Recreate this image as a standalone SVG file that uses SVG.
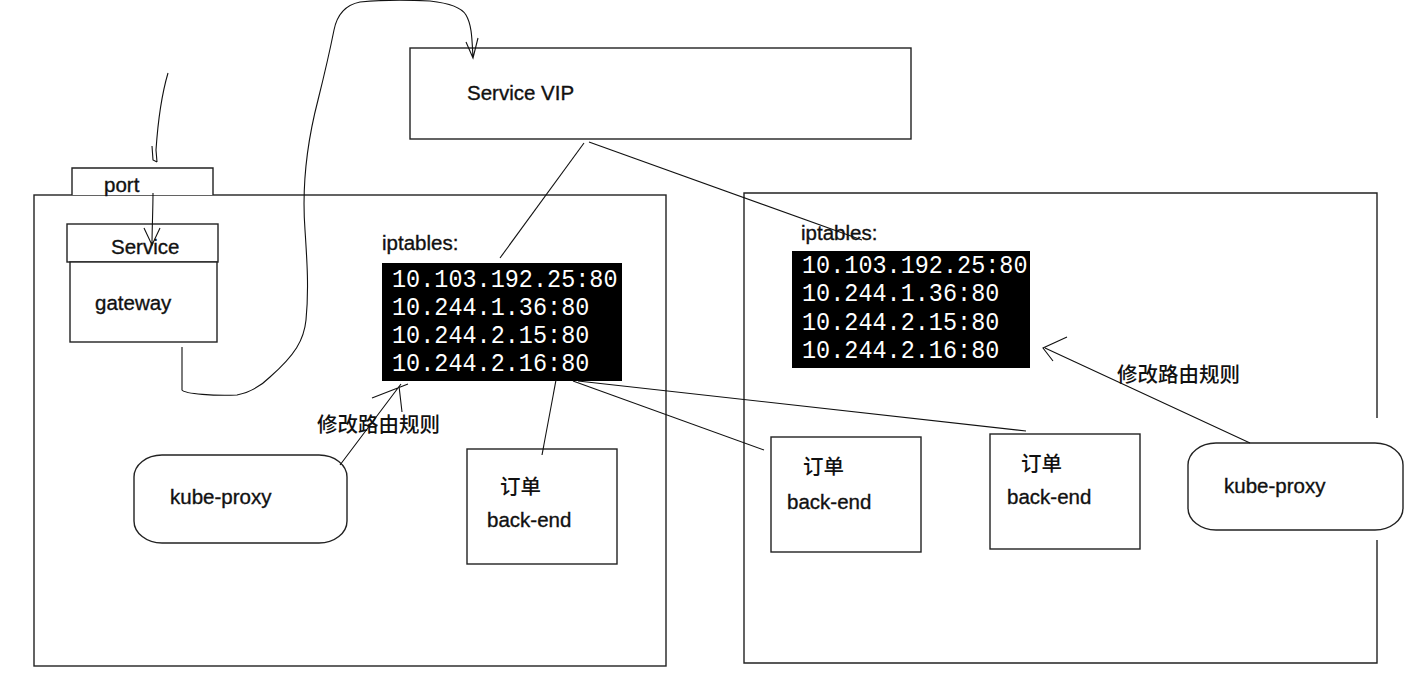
<svg xmlns="http://www.w3.org/2000/svg" width="1405" height="697" viewBox="0 0 1405 697">
<style>
.box{fill:#fff;stroke:#222;stroke-width:1.4}
.ln{fill:none;stroke:#111;stroke-width:1.1}
.t{font-family:"Liberation Sans","Noto Sans CJK SC",sans-serif;font-size:20.5px;fill:#111;stroke:#111;stroke-width:0.35}
.cjk{font-family:"Noto Sans CJK SC",sans-serif;font-size:20.5px;fill:#111;font-weight:500}
.ip{font-family:"Liberation Mono","DejaVu Sans Mono",monospace;font-size:23.5px;fill:#fff}
.term{fill:#000}
</style>
<rect width="1405" height="697" fill="#fff"/>

<g id="node-right-host"><path class="box" style="fill:none" d="M1377,540 V663 H744 V193 H1377 V418"/></g>
<g id="node-left-host"><rect class="box" style="fill:none" x="34" y="195" width="632" height="471"/></g>

<g id="node-service-vip"><rect class="box" x="410" y="48" width="501" height="91"/><text class="t" x="467" y="100">Service VIP</text></g>

<g id="node-port"><path class="box" d="M72,195 V168 H213 V195"/><text class="t" x="104" y="192">port</text></g>
<g id="node-service"><rect class="box" x="67" y="224" width="151" height="38"/><text class="t" x="111" y="254">Service</text></g>
<g id="node-gateway"><rect class="box" x="70" y="262" width="147" height="80"/><text class="t" x="95" y="310">gateway</text></g>

<g id="node-iptables-left">
<text class="t" x="382" y="250">iptables:</text>
<rect class="term" x="382" y="263" width="240" height="118"/>
<g transform="translate(392,287) scale(1,1.12)"><text class="ip" x="0" y="0">10.103.192.25:80</text></g>
<g transform="translate(392,315) scale(1,1.12)"><text class="ip" x="0" y="0">10.244.1.36:80</text></g>
<g transform="translate(392,343) scale(1,1.12)"><text class="ip" x="0" y="0">10.244.2.15:80</text></g>
<g transform="translate(392,371) scale(1,1.12)"><text class="ip" x="0" y="0">10.244.2.16:80</text></g>
</g>

<g id="node-iptables-right">
<text class="t" x="801" y="240">iptables:</text>
<rect class="term" x="792" y="251" width="238" height="117"/>
<g transform="translate(802,273) scale(1,1.12)"><text class="ip" x="0" y="0">10.103.192.25:80</text></g>
<g transform="translate(802,301) scale(1,1.12)"><text class="ip" x="0" y="0">10.244.1.36:80</text></g>
<g transform="translate(802,330) scale(1,1.12)"><text class="ip" x="0" y="0">10.244.2.15:80</text></g>
<g transform="translate(802,358) scale(1,1.12)"><text class="ip" x="0" y="0">10.244.2.16:80</text></g>
</g>

<g id="node-kube-proxy-left"><rect class="box" x="134" y="455" width="213" height="88" rx="28" ry="22"/><text class="t" x="170" y="504">kube-proxy</text></g>
<g id="node-kube-proxy-right"><rect class="box" x="1188" y="443" width="215" height="87" rx="28" ry="22"/><text class="t" x="1224" y="493">kube-proxy</text></g>

<g id="node-backend-1"><rect class="box" x="467" y="449" width="150" height="115"/><text class="cjk" x="500" y="494">订单</text><text class="t" x="487" y="527">back-end</text></g>
<g id="node-backend-2"><rect class="box" x="771" y="437" width="150" height="115"/><text class="cjk" x="803" y="474">订单</text><text class="t" x="787" y="509">back-end</text></g>
<g id="node-backend-3"><rect class="box" x="990" y="434" width="150" height="115"/><text class="cjk" x="1021" y="471">订单</text><text class="t" x="1007" y="504">back-end</text></g>

<g id="labels">
<text class="cjk" x="317" y="432">修改路由规则</text>
<text class="cjk" x="1117" y="382">修改路由规则</text>
</g>

<g id="connectors">
<path class="ln" d="M168,73 C163,90 158,120 156,150 L157,162 M152,146 L153,160 L157,162"/>
<path class="ln" d="M153,193 C153,210 152,230 152,245 M144,228 L152,245 L160,228"/>
<path class="ln" d="M182,347 L182,390 C185,394 215,396 237,395 C252,392 262,385 270,377 C295,355 304,340 306,320 C309,290 307,260 305,230 C302,190 305,150 318,100 C323,80 330,50 334,30 C337,15 345,5 360,2 C380,0 410,0 430,1 C448,3 462,8 466,15 C472,25 472,40 473,58 M466,42 L473,58 L478,38"/>
<path class="ln" d="M584,143 L500,258"/>
<path class="ln" d="M589,142 L862,240"/>
<path class="ln" d="M556,380 L542,455"/>
<path class="ln" d="M573,381 L764,450"/>
<path class="ln" d="M578,381 L1026,431"/>
<path class="ln" d="M340,465 L401,384 M372,398 L408,384 M399,386 L402,412"/>
<path class="ln" d="M1250,443 L1045,348 M1067,337 L1043,348 L1053,361"/>
</g>
</svg>
